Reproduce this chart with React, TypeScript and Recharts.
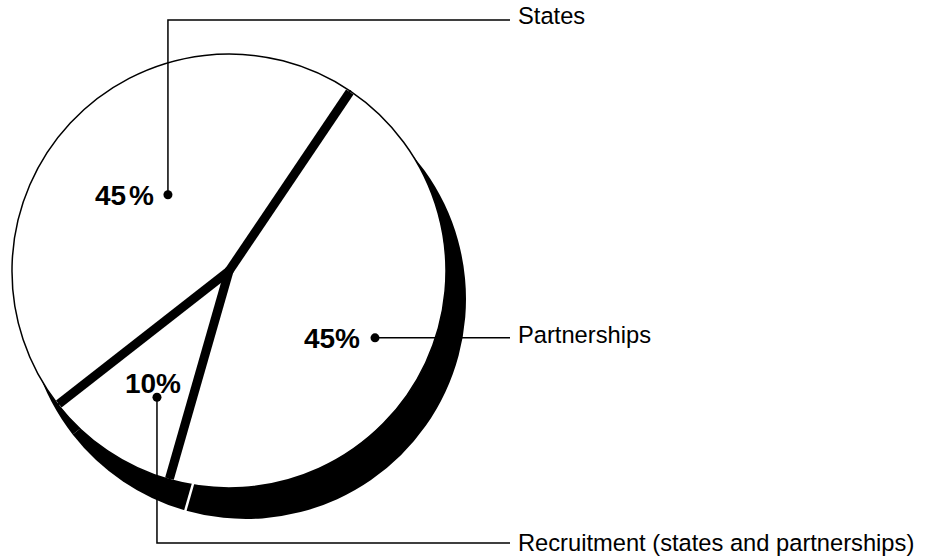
import React from "react";
import { PieChart, Pie } from "recharts";

// slice order follows the picture: counter-clockwise from the top-right spoke
const categories = ["States", "Recruitment (states and partnerships)", "Partnerships"];
const shares = [45, 10, 45];

const data = categories.map((name, i) => ({ name, value: shares[i] }));

const FONT = "'Liberation Sans', Arial, Helvetica, sans-serif";
const RAD = Math.PI / 180;

// annotation layout: dot placed in polar terms relative to the pie
const labelLayout = [
  { angle: 128.7, rFrac: 0.45, route: "up", lineY: 20, nameDy: 4, gap: 3, pct: { dx: -14, dy: 10, anchor: "end" } },
  { angle: 240.3, rFrac: 0.67, route: "down", lineY: 543, nameDy: 8, gap: 0, pct: { dx: -4, dy: -4, anchor: "middle" } },
  { angle: 335.4, rFrac: 0.74, route: "flat", lineY: 0, nameDy: 5, gap: 0, pct: { dx: -15, dy: 10, anchor: "end" } },
];

const LINE_END = 510;
const NAME_X = 518;

const polar = (cx: number, cy: number, r: number, a: number) => ({
  x: cx + r * Math.cos(-a * RAD),
  y: cy + r * Math.sin(-a * RAD),
});

const renderLabel = (props: any) => {
  const { cx, cy, outerRadius, startAngle, index, name, value } = props;
  const lay = labelLayout[index];
  const edge = polar(cx, cy, outerRadius - 1, startAngle);
  const dot = polar(cx, cy, outerRadius * lay.rFrac, lay.angle);

  let path = "";
  let nameY = dot.y;
  if (lay.route === "flat") {
    path = `M${dot.x},${dot.y}H${LINE_END}`;
  } else {
    path = `M${dot.x},${dot.y}V${lay.lineY}H${LINE_END}`;
    nameY = lay.lineY;
  }

  return (
    <g key={`lab-${index}`}>
      {/* thick spoke at the start of each slice */}
      <line x1={cx} y1={cy} x2={edge.x} y2={edge.y} stroke="#000" strokeWidth={9} />
      {index === 0 && <circle cx={cx} cy={cy} r={4.5} fill="#000" />}
      <path d={path} fill="none" stroke="#000" strokeWidth={1.5} />
      <circle cx={dot.x} cy={dot.y} r={4.5} fill="#000" />
      <text
        x={dot.x + lay.pct.dx}
        y={dot.y + lay.pct.dy}
        textAnchor={lay.pct.anchor as any}
        fontFamily={FONT}
        fontWeight="bold"
        fontSize={28}
        fill="#000"
      >
        <tspan>{value}</tspan>
        <tspan dx={lay.gap}>%</tspan>
      </text>
      <text x={NAME_X} y={nameY + lay.nameDy} fontFamily={FONT} fontSize={23.7} fill="#000">
        {name}
      </text>
    </g>
  );
};

// white cut in the disc edge below the Recruitment / Partnerships spoke
const renderNotch = (props: any) => {
  const { cx, cy, outerRadius, startAngle, index } = props;
  if (index !== 2) return <g key={`n-${index}`} />;
  const a = polar(cx, cy, outerRadius - 40, startAngle);
  const b = polar(cx, cy, outerRadius + 2, startAngle);
  return (
    <line key={`n-${index}`} x1={a.x} y1={a.y} x2={b.x} y2={b.y} stroke="#fff" strokeWidth={2.5} />
  );
};

export default function App() {
  const cx = 229;
  const cy = 271;
  const r = 217;
  return (
    <div style={{ position: "absolute", left: 0, top: 0, width: 935, height: 558, background: "#fff" }}>
      <PieChart width={935} height={558} margin={{ top: 0, right: 0, bottom: 0, left: 0 }}>
        {/* dropped "thickness" of the disc */}
        <Pie
          data={data}
          dataKey="value"
          nameKey="name"
          cx={cx + 17}
          cy={cy + 28}
          outerRadius={r + 3}
          startAngle={56}
          endAngle={416}
          fill="#000"
          stroke="none"
          label={renderNotch}
          labelLine={false}
          isAnimationActive={false}
        />
        <Pie
          data={data}
          dataKey="value"
          nameKey="name"
          cx={cx}
          cy={cy}
          outerRadius={r}
          startAngle={56}
          endAngle={416}
          fill="#fff"
          stroke="#000"
          strokeWidth={1.5}
          label={renderLabel}
          labelLine={false}
          isAnimationActive={false}
        />
      </PieChart>
    </div>
  );
}
